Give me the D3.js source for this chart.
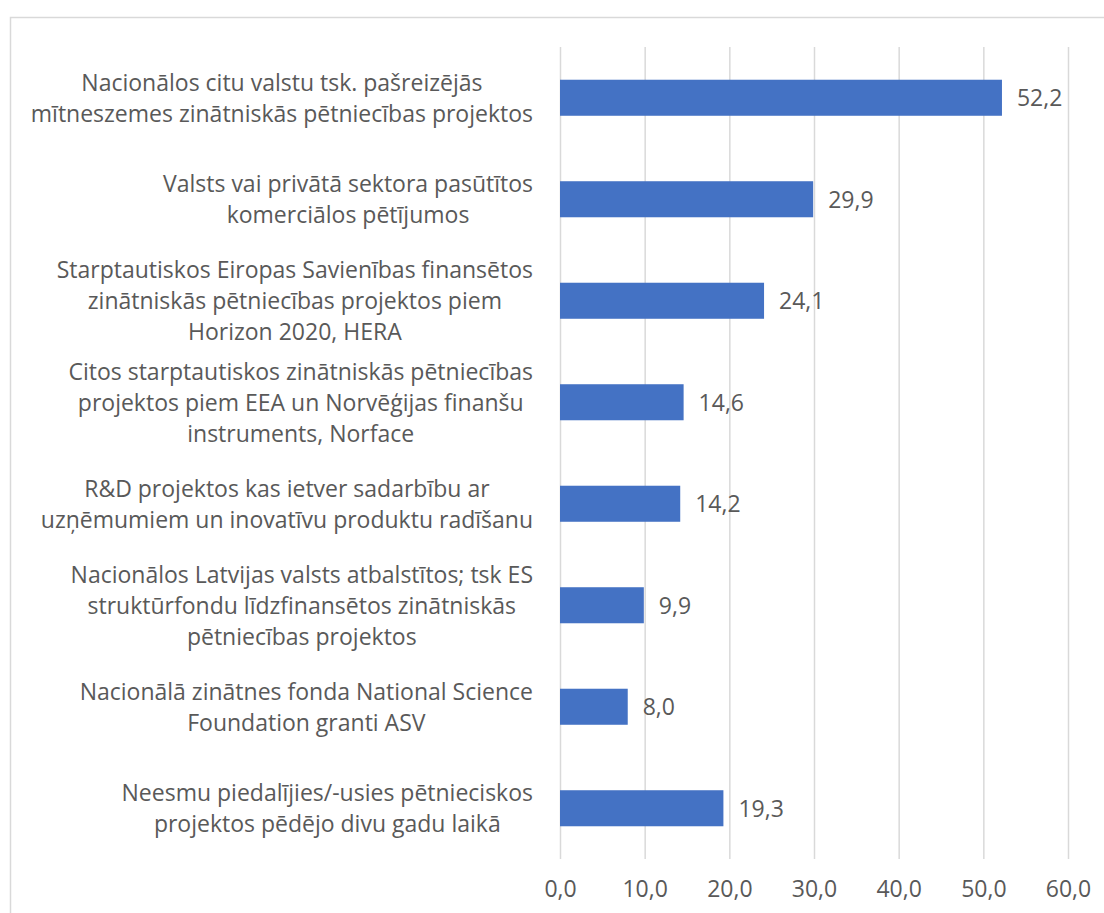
<!DOCTYPE html>
<html lang="lv">
<head>
<meta charset="utf-8">
<title>Pētniecības projekti</title>
<script src="https://cdn.jsdelivr.net/npm/d3@7"></script>
<style>
  body { margin: 0; background: #fff; }
  text { font-family: "Open Sans", "Noto Sans", sans-serif; fill: #595959; }
</style>
</head>
<body>
<script>
  // categories (top to bottom), already split in lines like the original
  var categories = [
    ["Nacionālos citu valstu tsk. pašreizējās", "mītneszemes zinātniskās pētniecības projektos"],
    ["Valsts vai privātā sektora pasūtītos", "komerciālos pētījumos"],
    ["Starptautiskos Eiropas Savienības finansētos", "zinātniskās pētniecības projektos piem", "Horizon 2020, HERA"],
    ["Citos starptautiskos zinātniskās pētniecības", "projektos piem EEA un Norvēģijas finanšu", "instruments, Norface"],
    ["R&D projektos kas ietver sadarbību ar", "uzņēmumiem un inovatīvu produktu radīšanu"],
    ["Nacionālos Latvijas valsts atbalstītos; tsk ES", "struktūrfondu līdzfinansētos zinātniskās", "pētniecības projektos"],
    ["Nacionālā zinātnes fonda National Science", "Foundation granti ASV"],
    ["Neesmu piedalījies/-usies pētnieciskos", "projektos pēdējo divu gadu laikā"]
  ];
  var values = [52.2, 29.9, 24.1, 14.6, 14.2, 9.9, 8.0, 19.3];
  var xTicks = [0, 10, 20, 30, 40, 50, 60];

  var W = 1104, H = 913;
  var plot = {left: 560, right: 1068, top: 47, bottom: 859};
  var fs = 23;
  var fmt = function(v) { return v.toFixed(1).replace(".", ","); };

  var svg = d3.select("body").append("svg")
    .attr("width", W)
    .attr("height", H);

  // chart border
  svg.append("rect")
    .attr("x", 10.5).attr("y", 17.5)
    .attr("width", W + 20).attr("height", H + 20)
    .attr("fill", "none")
    .attr("stroke", "#d9d9d9")
    .attr("stroke-width", 1.5);

  var x = d3.scaleLinear().domain([0, 60]).range([plot.left, plot.right]);
  var y = d3.scaleBand()
    .domain(d3.range(categories.length))
    .range([plot.top, plot.bottom])
    .paddingInner(0.645)
    .paddingOuter(0.3225);

  // vertical gridlines + tick labels
  var xAxis = d3.axisBottom(x)
    .tickValues(xTicks)
    .tickSize(-(plot.bottom - plot.top))
    .tickPadding(22)
    .tickFormat(fmt);

  var gx = svg.append("g")
    .attr("transform", "translate(0," + plot.bottom + ")")
    .call(xAxis);
  gx.select(".domain").remove();
  gx.selectAll(".tick line").attr("stroke", "#d9d9d9").attr("stroke-width", 1.5);
  gx.selectAll(".tick text")
    .attr("font-size", fs)
    .attr("fill", "#595959")
    .style("font-family", "'Open Sans', 'Noto Sans', sans-serif");

  // bars
  svg.append("g").selectAll("rect")
    .data(values)
    .enter().append("rect")
    .attr("x", x(0))
    .attr("y", function(d, i) { return y(i); })
    .attr("width", function(d) { return x(d) - x(0); })
    .attr("height", y.bandwidth())
    .attr("fill", "#4472c4");

  // value labels
  svg.append("g").selectAll("text")
    .data(values)
    .enter().append("text")
    .attr("x", function(d) { return x(d) + 15; })
    .attr("y", function(d, i) { return y(i) + y.bandwidth() / 2; })
    .attr("dy", "0.36em")
    .attr("font-size", fs)
    .attr("fill", "#404040")
    .text(fmt);

  // category labels: lines centred on each other, block right-aligned
  var lineH = 31;
  var labelRight = 533;
  var lab = svg.append("g").selectAll("g")
    .data(categories)
    .enter().append("g");

  lab.each(function(lines, i) {
    var g = d3.select(this);
    var cy = y(i) + y.bandwidth() / 2;
    var t = g.append("text")
      .attr("font-size", fs)
      .attr("text-anchor", "middle");
    lines.forEach(function(line, k) {
      t.append("tspan")
        .attr("x", 0)
        .attr("y", cy + (k - (lines.length - 1) / 2) * lineH)
        .attr("dy", "0.36em")
        .text(line);
    });
    var w = t.node().getBBox().width;
    t.attr("transform", "translate(" + (labelRight - w / 2) + ",0)");
  });
</script>
</body>
</html>
